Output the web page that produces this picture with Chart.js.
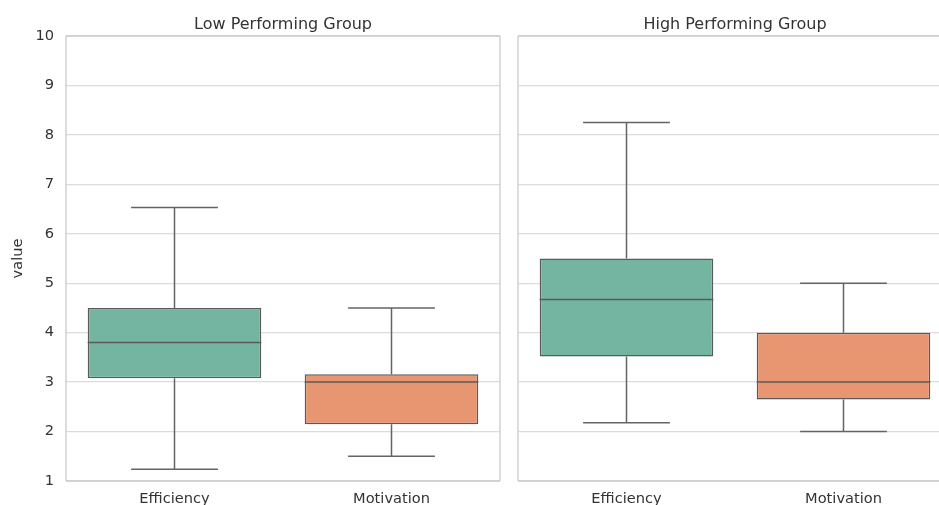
<!DOCTYPE html>
<html>
<head>
<meta charset="utf-8">
<script src="https://cdn.jsdelivr.net/npm/chart.js@4"></script>
<style>
  html, body { margin: 0; padding: 0; background: #ffffff; width: 939px; height: 505px; overflow: hidden; position: relative; }
  #wrapL { position: absolute; left: 0; top: 0; width: 505px; height: 530px; }
  #wrapR { position: absolute; left: 505px; top: 0; width: 475px; height: 530px; }
</style>
</head>
<body>
<div id="wrapL"><canvas id="cL" width="505" height="530"></canvas></div>
<div id="wrapR"><canvas id="cR" width="475" height="530"></canvas></div>
<script>
// ---- data ----
const categories = ['Efficiency', 'Motivation'];
const panelTitles = ['Low Performing Group', 'High Performing Group'];
const yTicks = [1, 2, 3, 4, 5, 6, 7, 8, 9, 10];

const lowMin    = [1.24, 1.50];
const lowQ1     = [3.08, 2.15];
const lowMedian = [3.80, 3.00];
const lowQ3     = [4.50, 3.16];
const lowMax    = [6.53, 4.50];

const highMin    = [2.18, 2.00];
const highQ1     = [3.52, 2.65];
const highMedian = [4.67, 3.00];
const highQ3     = [5.50, 4.00];
const highMax    = [8.25, 5.00];

const boxColors = ['#73b5a0', '#e89571'];
const FONT = "'DejaVu Sans', sans-serif";
const TEXT = '#333333';
const GRID = '#dcdcdc';
const SPINE = '#cccccc';
const LINE = '#646464';

const boxPlugin = {
  id: 'boxWhisker',
  beforeDatasetsDraw(chart) {
    const { ctx, chartArea: a } = chart;
    const stats = chart.options.plugins.boxWhisker;
    ctx.save();
    ctx.strokeStyle = SPINE;
    ctx.lineWidth = 1.3;
    ctx.beginPath();
    ctx.moveTo(a.left, a.top); ctx.lineTo(a.right, a.top);
    ctx.moveTo(a.left, a.top); ctx.lineTo(a.left, a.bottom);
    ctx.moveTo(a.left, a.bottom); ctx.lineTo(a.right, a.bottom);
    if (stats.rightSpine) { ctx.moveTo(a.right, a.top); ctx.lineTo(a.right, a.bottom); }
    ctx.stroke();
    ctx.restore();
  },
  afterDatasetsDraw(chart) {
    const stats = chart.options.plugins.boxWhisker;
    const { ctx, chartArea: a } = chart;
    const y = chart.scales.y;
    const meta = chart.getDatasetMeta(0);
    ctx.save();
    ctx.strokeStyle = LINE;
    ctx.lineWidth = 1.5;
    meta.data.forEach((bar, i) => {
      const { x, width } = bar.getProps(['x', 'width'], true);
      const half = width / 2;
      const cap = width / 4;
      const yMin = y.getPixelForValue(stats.min[i]);
      const yQ1 = y.getPixelForValue(stats.q1[i]);
      const yMed = y.getPixelForValue(stats.median[i]);
      const yQ3 = y.getPixelForValue(stats.q3[i]);
      const yMax = y.getPixelForValue(stats.max[i]);
      ctx.beginPath();
      ctx.moveTo(x, yQ3); ctx.lineTo(x, yMax);
      ctx.moveTo(x - cap, yMax); ctx.lineTo(x + cap, yMax);
      ctx.moveTo(x, yQ1); ctx.lineTo(x, yMin);
      ctx.moveTo(x - cap, yMin); ctx.lineTo(x + cap, yMin);
      ctx.stroke();
      ctx.beginPath();
      ctx.strokeStyle = '#5a5a5a';
      ctx.moveTo(x - half, yMed); ctx.lineTo(x + half, yMed);
      ctx.stroke();
      ctx.strokeStyle = LINE;
    });
    // panel title centred over the plot area
    ctx.fillStyle = TEXT;
    ctx.font = '16px ' + FONT;
    ctx.textAlign = 'center';
    ctx.textBaseline = 'alphabetic';
    ctx.fillText(stats.title, (a.left + a.right) / 2, 29);
    ctx.restore();
  }
};

function makeChart(canvasId, title, mn, q1, med, q3, mx, isLeft) {
  return new Chart(document.getElementById(canvasId), {
    type: 'bar',
    data: {
      labels: categories,
      datasets: [{
        data: categories.map((c, i) => [q1[i], q3[i]]),
        backgroundColor: boxColors,
        borderColor: '#5a5a5a',
        borderWidth: 1.5,
        borderSkipped: false,
        barPercentage: 0.8,
        categoryPercentage: 1.0
      }]
    },
    options: {
      responsive: false,
      animation: false,
      devicePixelRatio: 1,
      layout: { padding: { left: 0, right: isLeft ? 5 : 28, top: 36, bottom: 0 } },
      plugins: {
        legend: { display: false },
        tooltip: { enabled: false },
        title: { display: false },
        boxWhisker: { min: mn, q1: q1, median: med, q3: q3, max: mx, title: title, rightSpine: isLeft }
      },
      scales: {
        x: {
          type: 'category',
          offset: true,
          grid: { display: false, drawTicks: false },
          border: { display: false },
          ticks: { color: TEXT, font: { family: FONT, size: 14.6 }, padding: 9 },
          afterFit(s) { s.height = 49; }
        },
        y: {
          min: 1,
          max: 10,
          afterBuildTicks(s) { s.ticks = yTicks.map(v => ({ value: v })); },
          grid: { color: GRID, lineWidth: 1.3, drawTicks: false },
          border: { display: false },
          ticks: { display: isLeft, color: TEXT, font: { family: FONT, size: 14.6 }, padding: 12 },
          title: {
            display: isLeft,
            text: 'value',
            color: TEXT,
            font: { family: FONT, size: 14.6 },
            padding: { top: 9, bottom: 0 }
          },
          afterFit(s) { s.width = isLeft ? 66 : 13; }
        }
      }
    },
    plugins: [boxPlugin]
  });
}

makeChart('cL', panelTitles[0], lowMin, lowQ1, lowMedian, lowQ3, lowMax, true);
makeChart('cR', panelTitles[1], highMin, highQ1, highMedian, highQ3, highMax, false);
</script>
</body>
</html>
